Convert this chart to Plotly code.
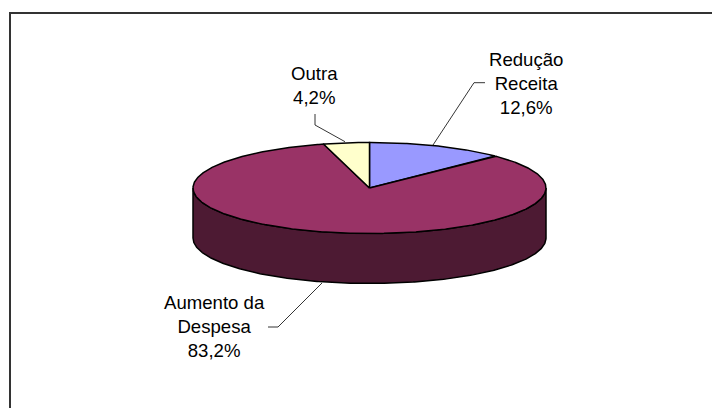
import numpy as np
import plotly.graph_objects as go

categories = ["Redução Receita", "Aumento da Despesa", "Outra"]
values = [12.6, 83.2, 4.2]
top_colors = ["#9999FF", "#993366", "#FFFFCC"]
side_colors = ["#4D4D80", "#4D1A33", "#808066"]
labels = ["Redução<br>Receita<br>12,6%", "Aumento da<br>Despesa<br>83,2%", "Outra<br>4,2%"]

# pie geometry in pixels, the axes below map 1:1 to the page
cx, cy = 369.5, 188
rx, ry = 176.5, 45.5
depth = 50


def rim(a0, a1, dy=0):
    # angle runs clockwise from 12 o'clock
    t = np.radians(np.linspace(a0, a1, max(int(a1 - a0) * 2, 2)))
    return cx + rx * np.sin(t), cy + dy - ry * np.cos(t)


fig = go.Figure()

# sides first, only the part facing the viewer
start = 0
for val, col in zip(values, side_colors):
    end = start + val * 3.6
    a0, a1 = max(start, 90), min(end, 270)
    if a1 > a0:
        x1, y1 = rim(a0, a1)
        x2, y2 = rim(a0, a1, depth)
        fig.add_trace(go.Scatter(x=list(x1) + list(x2[::-1]) + [x1[0]], y=list(y1) + list(y2[::-1]) + [y1[0]],
                                 mode="lines", fill="toself", fillcolor=col,
                                 line=dict(color="black", width=1.5), hoverinfo="skip"))
    start = end

# top faces
start = 0
for cat, val, col in zip(categories, values, top_colors):
    end = start + val * 3.6
    x, y = rim(start, end)
    fig.add_trace(go.Scatter(x=[cx] + list(x) + [cx], y=[cy] + list(y) + [cy],
                             mode="lines", fill="toself", fillcolor=col, name=cat,
                             line=dict(color="black", width=1.5)))
    start = end

# leader lines
for lx, ly in [([485, 474, 433], [82.7, 82.7, 145]),
               ([315, 315, 345], [114, 125, 141.7]),
               ([268, 278, 322], [327, 327, 283])]:
    fig.add_trace(go.Scatter(x=lx, y=ly, mode="lines", line=dict(color="black", width=0.8), hoverinfo="skip"))

for txt, px_, py_ in zip(labels, [526, 214.5, 314.5], [83, 326, 85.5]):
    fig.add_annotation(x=px_, y=py_, text=txt, showarrow=False, xanchor="center", yanchor="middle",
                       font=dict(family="Liberation Sans", size=18.6, color="black"))

# chart frame, only top and left show, the rest is cut off by the picture
fig.add_shape(type="line", x0=10, y0=13, x1=720, y1=13, line=dict(color="#333333", width=2), layer="below")
fig.add_shape(type="line", x0=10, y0=12, x1=10, y1=408, line=dict(color="#333333", width=2), layer="below")

# the page has an 8px body margin, so the plot starts at 8,8
fig.update_layout(width=712, height=400, showlegend=False, margin=dict(l=0, r=0, t=0, b=0),
                  paper_bgcolor="white", plot_bgcolor="white",
                  xaxis=dict(range=[8, 720], visible=False),
                  yaxis=dict(range=[408, 8], visible=False))

fig.write_html("out.html")
